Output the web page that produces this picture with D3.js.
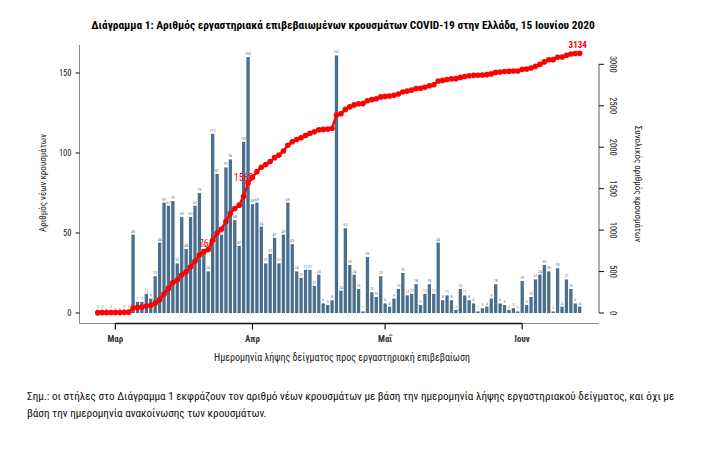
<head>
  <meta charset="utf-8">
  <style>
    body { margin: 0; background: #fff; }
    text { font-family: "Liberation Sans Narrow", "Roboto Condensed", "Arial Narrow", "Liberation Sans", sans-serif; }
  </style>
  <script src="https://d3js.org/d3.v7.min.js"></script>
</head>

<body>
  <svg id="svg" width="707" height="466"></svg>

  <script>
    // daily new cases by sample date, 26 Feb - 14 Jun 2020
    let firstDay = new Date(Date.UTC(2020, 1, 26));
    let lastDay = new Date(Date.UTC(2020, 5, 14));
    let newCases = [
      2, 2, 0, 2, 0, 0, 2, 2,
      49, 7, 7, 12, 9, 23, 44, 69, 67, 70,
      31, 60, 40, 60, 67, 75, 40, 26, 112, 87,
      49, 91, 96, 58, 42, 107, 160, 68, 69, 54,
      31, 37, 47, 31, 49, 69, 43, 26, 22, 27,
      27, 17, 24, 6, 5, 8, 161, 14, 53, 30,
      24, 15, 1, 35, 13, 10, 23, 6, 4, 9,
      15, 25, 11, 12, 18, 5, 12, 18, 12, 44,
      8, 11, 8, 2, 15, 11, 8, 6, 1, 3,
      4, 9, 18, 6, 5, 2, 3, 1, 20, 5,
      10, 21, 24, 30, 26, 1, 28, 4, 21, 15,
      6, 4
    ];
    let markedDays = [25, 34];   // cumulative labels in red
    let leftTicks = [0, 50, 100, 150];
    let rightTicks = [0, 500, 1000, 1500, 2000, 2500, 3000];
    let monthTicks = [
      new Date(Date.UTC(2020, 2, 1)), new Date(Date.UTC(2020, 3, 1)),
      new Date(Date.UTC(2020, 4, 1)), new Date(Date.UTC(2020, 5, 1))
    ];
    let monthNames = ["Μαρ", "Απρ", "Μαΐ", "Ιουν"];

    let days = d3.utcDay.range(firstDay, d3.utcDay.offset(lastDay, 1));
    let data = days.map((d, i) => ({ date: d, value: newCases[i] }));
    let cum = d3.cumsum(newCases);
    data.forEach((d, i) => d.total = cum[i]);

    let svg = d3.select("#svg");

    let x = d3.scaleUtc().domain([firstDay, lastDay]).range([97.7, 579.7]);
    let yL = d3.scaleLinear().domain([0, 150]).range([313, 73]);
    let yR = d3.scaleLinear().domain([0, 3000]).range([313, 64.3]);

    // title
    svg.append("text")
      .attr("x", 343).attr("y", 29)
      .attr("text-anchor", "middle")
      .style("font-size", "11.4px").style("font-weight", "bold")
      .text("Διάγραμμα 1: Αριθμός εργαστηριακά επιβεβαιωμένων κρουσμάτων COVID-19 στην Ελλάδα, 15 Ιουνίου 2020");

    // frame (left + bottom)
    svg.append("path")
      .attr("d", "M79.5,45 V323.5 H599")
      .attr("fill", "none").attr("stroke", "#888").attr("stroke-width", 1);

    // bottom axis
    let xAxis = svg.append("g").attr("transform", "translate(0,323.5)");
    xAxis.append("line")
      .attr("x1", x(monthTicks[0])).attr("x2", x(monthTicks[3]))
      .attr("stroke", "#111").attr("stroke-width", 1.6);
    xAxis.selectAll(".mt").data(monthTicks).enter().append("line")
      .attr("x1", d => x(d)).attr("x2", d => x(d))
      .attr("y1", 0).attr("y2", 6)
      .attr("stroke", "#111").attr("stroke-width", 1.2);
    xAxis.selectAll(".ml").data(monthTicks).enter().append("text")
      .attr("x", d => x(d)).attr("y", 18)
      .attr("text-anchor", "middle")
      .style("font-size", "9px").style("font-weight", "bold").attr("fill", "#333")
      .text((d, i) => monthNames[i]);

    svg.append("text")
      .attr("x", 342).attr("y", 361)
      .attr("text-anchor", "middle")
      .style("font-size", "10px").attr("fill", "#222")
      .text("Ημερομηνία λήψης δείγματος προς εργαστηριακή επιβεβαίωση");

    // left axis
    let left = svg.append("g").attr("transform", "translate(79.5,0)");
    left.selectAll("line").data(leftTicks).enter().append("line")
      .attr("x1", -4).attr("x2", 0)
      .attr("y1", d => yL(d)).attr("y2", d => yL(d))
      .attr("stroke", "#111");
    left.selectAll("text").data(leftTicks).enter().append("text")
      .attr("x", -8).attr("y", d => yL(d) + 3)
      .attr("text-anchor", "end")
      .style("font-size", "8.5px").attr("fill", "#222")
      .text(d => d);
    svg.append("text")
      .attr("transform", "translate(46,183) rotate(-90)")
      .attr("text-anchor", "middle")
      .style("font-size", "9px").attr("fill", "#222")
      .text("Αριθμός νέων κρουσμάτων");

    // right axis
    let right = svg.append("g").attr("transform", "translate(599,0)");
    right.append("line")
      .attr("y1", yR(0)).attr("y2", yR(3000))
      .attr("stroke", "#777").attr("stroke-width", 1.2);
    right.selectAll(".rt").data(rightTicks).enter().append("line")
      .attr("x1", 0).attr("x2", 5)
      .attr("y1", d => yR(d)).attr("y2", d => yR(d))
      .attr("stroke", "#111");
    right.selectAll(".rl").data(rightTicks).enter().append("text")
      .attr("transform", d => "translate(11," + yR(d) + ") rotate(90)")
      .attr("text-anchor", "middle")
      .style("font-size", "8.5px").attr("fill", "#222")
      .text(d => d);
    svg.append("text")
      .attr("transform", "translate(635,184) rotate(90)")
      .attr("text-anchor", "middle")
      .style("font-size", "9px").attr("fill", "#222")
      .text("Συνολικός αριθμός κρουσμάτων");

    // bars
    let bw = 3.3;
    svg.append("g").selectAll("rect").data(data).enter().append("rect")
      .attr("x", d => x(d.date) - bw / 2)
      .attr("y", d => yL(d.value))
      .attr("width", bw)
      .attr("height", d => yL(0) - yL(d.value))
      .attr("fill", "#4a6e8d");

    svg.append("g").selectAll("text").data(data).enter().append("text")
      .attr("x", d => x(d.date))
      .attr("y", d => yL(d.value) - 2)
      .attr("text-anchor", "middle")
      .style("font-size", "4px").attr("fill", "#6b6b7a")
      .text(d => d.value);

    // cumulative line
    let line = d3.line().x(d => x(d.date)).y(d => yR(d.total));

    svg.append("g").selectAll("text").data(markedDays).enter().append("text")
      .attr("x", i => x(data[i].date) + 5.5)
      .attr("y", i => yR(data[i].total) - 2.5)
      .attr("text-anchor", "end")
      .style("font-size", "10px").attr("fill", "#ff0000")
      .text(i => data[i].total);

    svg.append("path").datum(data)
      .attr("d", line)
      .attr("fill", "none").attr("stroke", "#ff0000").attr("stroke-width", 2.5);
    svg.append("g").selectAll("circle").data(data).enter().append("circle")
      .attr("cx", d => x(d.date)).attr("cy", d => yR(d.total))
      .attr("r", 2.8).attr("fill", "#ff0000");

    let last = data[data.length - 1];
    svg.append("text")
      .attr("x", x(last.date) - 2).attr("y", yR(last.total) - 5.5)
      .attr("text-anchor", "middle")
      .style("font-size", "9px").style("font-weight", "bold").attr("fill", "#ff0000")
      .text(last.total);

    // note
    let note = svg.append("text")
      .attr("x", 27).attr("y", 400)
      .style("font-size", "11.2px").attr("fill", "#111");
    note.append("tspan").attr("x", 27).attr("dy", 0)
      .text("Σημ.: οι στήλες στο Διάγραμμα 1 εκφράζουν τον αριθμό νέων κρουσμάτων με βάση την ημερομηνία λήψης εργαστηριακού δείγματος, και όχι με");
    note.append("tspan").attr("x", 27).attr("dy", 17)
      .text("βάση την ημερομηνία ανακοίνωσης των κρουσμάτων.");
  </script>
</body>
